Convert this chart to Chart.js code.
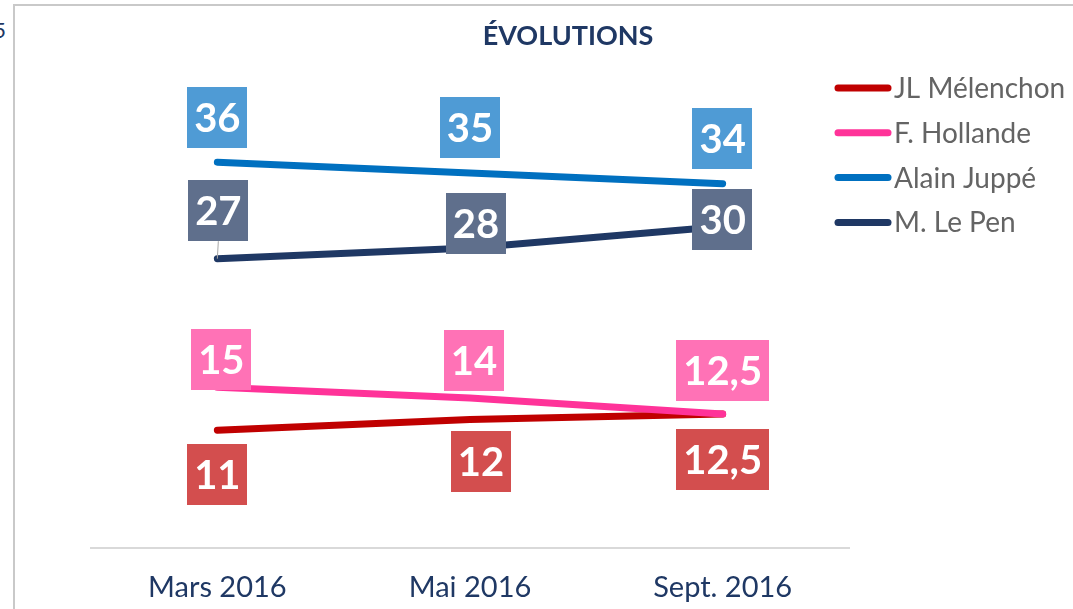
<!DOCTYPE html>
<html>
<head>
<meta charset="utf-8">
<script src="https://cdn.jsdelivr.net/npm/chart.js@4.4.1/dist/chart.umd.min.js"></script>
<style>
  html, body { margin: 0; padding: 0; background: #fff; overflow: hidden; }
  #frame { position: absolute; left: 13px; top: 4px; width: 1200px; height: 800px;
           border-left: 2px solid #c9c9c9; border-top: 2px solid #c9c9c9; }
  #cut { position: absolute; right: 1067px; top: 16px; font: 22px Lato; color: #1f3864; }
  #wrap { position: absolute; left: 0; top: 0; width: 1073px; height: 609px; }
</style>
</head>
<body>
<div id="frame"></div>
<div id="cut">5</div>
<div id="wrap"><canvas id="evo" width="1073" height="609"></canvas></div>
<script>
// Data
const months = ['Mars 2016', 'Mai 2016', 'Sept. 2016'];
const melenchon = [11, 12, 12.5];
const hollande = [15, 14, 12.5];
const juppe = [36, 35, 34];
const lepen = [27, 28, 30];

// Label box placement (px offset of box centre from the point)
const offMelenchon = [[0, 44], [11, 42], [0, 45]];
const offHollande = [[4, -28], [4, -37], [0, -44]];
const offJuppe = [[0, -45], [0, -45], [0, -45]];
const offLepen = [[1, -48], [6, -24], [0, -7]];

Chart.defaults.font.family = 'Lato';

function fmt(v) {
  return String(v).replace('.', ',');
}

// white value in a coloured box next to each point
const valueBoxes = {
  id: 'valueBoxes',
  afterDatasetsDraw(chart) {
    const ctx = chart.ctx;
    ctx.save();
    ctx.font = 'bold 40px Lato';
    ctx.textAlign = 'center';
    ctx.textBaseline = 'alphabetic';
    chart.data.datasets.forEach((ds, i) => {
      const meta = chart.getDatasetMeta(i);
      meta.data.forEach((pt, j) => {
        const txt = fmt(ds.data[j]);
        const [dx, dy] = ds.boxOffsets[j];
        const cx = pt.x + dx, cy = pt.y + dy;
        const w = ctx.measureText(txt).width + 14;
        const h = 61;
        if (ds.leader && ds.leader[j]) {
          ctx.strokeStyle = '#a6a6a6';
          ctx.lineWidth = 1;
          ctx.beginPath();
          ctx.moveTo(cx, cy + h / 2);
          ctx.lineTo(pt.x, pt.y);
          ctx.stroke();
        }
        ctx.fillStyle = ds.boxColor;
        ctx.fillRect(Math.round(cx - w / 2), Math.round(cy - h / 2), Math.round(w), h);
        ctx.fillStyle = '#ffffff';
        ctx.fillText(txt, cx, cy + 14.5);
      });
    });
    ctx.restore();
  }
};

// legend on the right, lines overlap the plot edge a little
const sideLegend = {
  id: 'sideLegend',
  afterDraw(chart) {
    const ctx = chart.ctx;
    const x0 = chart.chartArea.right - 13;
    ctx.save();
    ctx.font = '28px Lato';
    ctx.textBaseline = 'middle';
    ctx.textAlign = 'left';
    chart.data.datasets.forEach((ds, i) => {
      const y = 88 + i * 44.8;
      ctx.strokeStyle = ds.borderColor;
      ctx.lineWidth = 7;
      ctx.lineCap = 'round';
      ctx.beginPath();
      ctx.moveTo(x0 + 2, y);
      ctx.lineTo(x0 + 52, y);
      ctx.stroke();
      ctx.fillStyle = '#646464';
      ctx.fillText(ds.label, x0 + 58, y + 1);
    });
    ctx.restore();
  }
};

const lineStyle = { borderWidth: 7, borderCapStyle: 'round', pointRadius: 0, tension: 0, fill: false, yAxisID: 'y' };

new Chart(document.getElementById('evo'), {
  type: 'line',
  data: {
    labels: months,
    datasets: [
      { ...lineStyle, label: 'JL Mélenchon', data: melenchon, borderColor: '#c00000',
        boxColor: '#d34e4e', boxOffsets: offMelenchon, order: 2 },
      { ...lineStyle, label: 'F. Hollande', data: hollande, borderColor: '#ff3399',
        boxColor: '#ff72b6', boxOffsets: offHollande, order: 1 },
      { ...lineStyle, label: 'Alain Juppé', data: juppe, borderColor: '#0070c0',
        boxColor: '#4f9bd5', boxOffsets: offJuppe, order: 3 },
      { ...lineStyle, label: 'M. Le Pen', data: lepen, borderColor: '#1f3864',
        boxColor: '#5f6f8c', boxOffsets: offLepen, leader: [true, false, false], order: 4 }
    ]
  },
  options: {
    responsive: false,
    animation: false,
    layout: { padding: { left: 91, right: 28, top: 0, bottom: 4 } },
    plugins: {
      legend: { display: false },
      tooltip: { enabled: false },
      title: {
        display: true,
        text: 'ÉVOLUTIONS',
        color: '#1f3864',
        font: { size: 27, weight: 'bold' },
        padding: { top: 20, bottom: 67 }
      }
    },
    scales: {
      x: {
        offset: true,
        grid: { display: false, drawTicks: false },
        border: { display: true, color: '#d9d9d9', width: 2 },
        ticks: { color: '#1f3864', font: { size: 29 }, padding: 22, maxRotation: 0 },
        afterFit(scale) { scale.height = 57; }
      },
      y: {
        display: false,
        min: 0,
        max: 40
      },
      yR: {
        position: 'right',
        display: true,
        grid: { display: false, drawTicks: false },
        border: { display: false },
        ticks: { display: false },
        afterFit(scale) { scale.width = 196; }
      }
    }
  },
  plugins: [valueBoxes, sideLegend]
});
</script>
</body>
</html>
